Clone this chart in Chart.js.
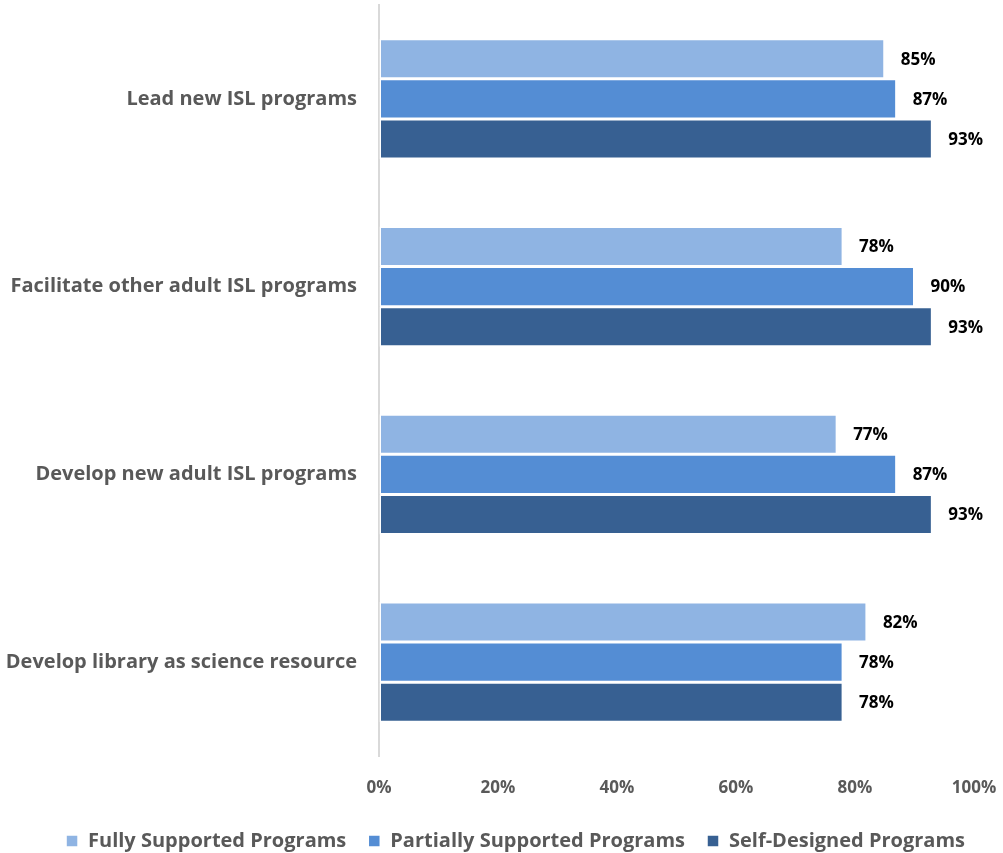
<!DOCTYPE html>
<html>
<head>
<meta charset="utf-8">
<script src="https://cdn.jsdelivr.net/npm/chart.js@4/dist/chart.umd.min.js"></script>
<style>
  html, body { margin: 0; padding: 0; background: #fff; }
  #wrap { width: 1003px; height: 853px; }
</style>
</head>
<body>
<div id="wrap"><canvas id="isl_chart"></canvas></div>
<script>
const categories = [
    'Lead new ISL programs',
    'Facilitate other adult ISL programs',
    'Develop new adult ISL programs',
    'Develop library as science resource'
];
const fullySupported = [85, 78, 77, 82];
const partiallySupported = [87, 90, 87, 78];
const selfDesigned = [93, 93, 93, 78];
const tickValues = [0, 20, 40, 60, 80, 100];

const FONT = '"Open Sans", Lato, sans-serif';
const GREY = '#595959';

// writes the percentage just past the end of each bar
const barValueLabels = {
    id: 'barValueLabels',
    afterDatasetsDraw(chart) {
        const ctx = chart.ctx;
        ctx.save();
        ctx.font = 'bold 17px ' + FONT;
        ctx.fillStyle = '#000';
        ctx.textAlign = 'left';
        ctx.textBaseline = 'middle';
        chart.data.datasets.forEach((ds, i) => {
            chart.getDatasetMeta(i).data.forEach((bar, j) => {
                ctx.fillText(ds.data[j] + '%', bar.x + 16, bar.y + 1);
            });
        });
        ctx.restore();
    }
};

// legend keeps its wide item spacing but takes less height,
// and is centred on the whole canvas rather than the padded area
const compactLegend = {
    id: 'compactLegend',
    beforeInit(chart) {
        const legend = chart.legend;
        const fit = legend.fit;
        legend.fit = function () {
            fit.call(this);
            this.height = 44;
        };
    },
    afterLayout(chart) {
        chart.legend.left = 28;
        chart.legend.right = chart.width;
    }
};

function makeDataset(label, data, color) {
    return {
        label: label,
        data: data,
        backgroundColor: color,
        borderColor: '#fff',
        borderWidth: 1.5,
        borderSkipped: false,
        categoryPercentage: 0.64,
        barPercentage: 1.0
    };
}

const hiddenTicks = { display: true, color: 'transparent', drawTicks: true, tickLength: 22 };

const ctx = document.getElementById('isl_chart').getContext('2d');
const islChart = new Chart(ctx, {
    type: 'bar',
    data: {
        labels: categories,
        datasets: [
            makeDataset('Fully Supported Programs', fullySupported, '#8FB4E3'),
            makeDataset('Partially Supported Programs', partiallySupported, '#548DD4'),
            makeDataset('Self-Designed Programs', selfDesigned, '#376092')
        ]
    },
    options: {
        indexAxis: 'y',
        responsive: true,
        maintainAspectRatio: false,
        animation: false,
        layout: { padding: { top: 5, right: 29, bottom: 0, left: 0 } },
        scales: {
            x: {
                min: 0,
                max: 100,
                afterBuildTicks: scale => {
                    scale.ticks = tickValues.map(v => ({ value: v }));
                },
                afterFit: scale => { scale.height = 53; },
                grid: hiddenTicks,
                border: { display: false },
                ticks: {
                    padding: 0,
                    color: GREY,
                    font: { family: FONT, size: 17, weight: 'bold' },
                    callback: v => v + '%'
                }
            },
            y: {
                afterFit: scale => { scale.width = 379; },
                grid: hiddenTicks,
                border: { display: true, color: '#D9D9D9', width: 2 },
                ticks: {
                    padding: 0,
                    color: GREY,
                    font: { family: FONT, size: 20, weight: 'bold', lineHeight: 0.5 }
                }
            }
        },
        plugins: {
            legend: {
                position: 'bottom',
                labels: {
                    color: GREY,
                    boxWidth: 12,
                    boxHeight: 12,
                    padding: 22,
                    font: { family: FONT, size: 20, weight: 'bold' }
                }
            },
            tooltip: { enabled: false }
        }
    },
    plugins: [barValueLabels, compactLegend]
});
</script>
</body>
</html>
